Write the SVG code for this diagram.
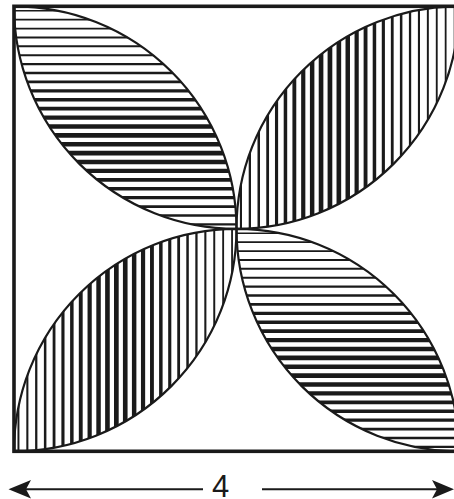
<svg xmlns="http://www.w3.org/2000/svg" width="454" height="499" viewBox="0 0 454 499">
<style>
.h line{stroke:#1a1a1a;fill:none}
.outline{fill:none;stroke:#1a1a1a;stroke-width:2.2}
.sq{fill:none;stroke:#1a1a1a;stroke-width:3.6}
.dim{stroke:#1a1a1a;stroke-width:2;fill:none}
.head{fill:#1a1a1a;stroke:none}
.lbl{font-family:"Liberation Sans",Arial,sans-serif;font-size:31px;fill:#1a1a1a}
</style>
<defs>
<clipPath id="cTL"><path d="M14,6.3 A222.5,222.5 0 0 1 236.5,228.8 A222.5,222.5 0 0 1 14,6.3 Z"/></clipPath>
<clipPath id="cTR"><path d="M236.5,228.8 A222.5,222.5 0 0 1 459,6.3 A222.5,222.5 0 0 1 236.5,228.8 Z"/></clipPath>
<clipPath id="cBL"><path d="M14,451.3 A222.5,222.5 0 0 1 236.5,228.8 A222.5,222.5 0 0 1 14,451.3 Z"/></clipPath>
<clipPath id="cBR"><path d="M236.5,228.8 A222.5,222.5 0 0 1 459,451.3 A222.5,222.5 0 0 1 236.5,228.8 Z"/></clipPath>
</defs>
<rect width="454" height="499" fill="#ffffff"/>
<g id="petal-top-left">
<g class="h" clip-path="url(#cTL)">
<line x1="10" x2="240" y1="10.75" y2="10.75" stroke-width="1.73"/>
<line x1="10" x2="240" y1="19.65" y2="19.65" stroke-width="1.75"/>
<line x1="10" x2="240" y1="28.55" y2="28.55" stroke-width="1.80"/>
<line x1="10" x2="240" y1="37.45" y2="37.45" stroke-width="1.86"/>
<line x1="10" x2="240" y1="46.35" y2="46.35" stroke-width="1.96"/>
<line x1="10" x2="240" y1="55.25" y2="55.25" stroke-width="2.09"/>
<line x1="10" x2="240" y1="64.15" y2="64.15" stroke-width="2.28"/>
<line x1="10" x2="240" y1="73.05" y2="73.05" stroke-width="2.51"/>
<line x1="10" x2="240" y1="81.95" y2="81.95" stroke-width="2.80"/>
<line x1="10" x2="240" y1="90.85" y2="90.85" stroke-width="3.14"/>
<line x1="10" x2="240" y1="99.75" y2="99.75" stroke-width="3.50"/>
<line x1="10" x2="240" y1="108.65" y2="108.65" stroke-width="3.86"/>
<line x1="10" x2="240" y1="117.55" y2="117.55" stroke-width="4.20"/>
<line x1="10" x2="240" y1="126.45" y2="126.45" stroke-width="4.47"/>
<line x1="10" x2="240" y1="135.35" y2="135.35" stroke-width="4.64"/>
<line x1="10" x2="240" y1="144.25" y2="144.25" stroke-width="4.70"/>
<line x1="10" x2="240" y1="153.15" y2="153.15" stroke-width="4.64"/>
<line x1="10" x2="240" y1="162.05" y2="162.05" stroke-width="4.47"/>
<line x1="10" x2="240" y1="170.95" y2="170.95" stroke-width="4.20"/>
<line x1="10" x2="240" y1="179.85" y2="179.85" stroke-width="3.86"/>
<line x1="10" x2="240" y1="188.75" y2="188.75" stroke-width="3.50"/>
<line x1="10" x2="240" y1="197.65" y2="197.65" stroke-width="3.14"/>
<line x1="10" x2="240" y1="206.55" y2="206.55" stroke-width="2.80"/>
<line x1="10" x2="240" y1="215.45" y2="215.45" stroke-width="2.51"/>
<line x1="10" x2="240" y1="224.35" y2="224.35" stroke-width="2.28"/>
</g>
<path class="outline" d="M14,6.3 A222.5,222.5 0 0 1 236.5,228.8 A222.5,222.5 0 0 1 14,6.3 Z"/>
</g>
<g id="petal-bottom-right">
<g class="h" clip-path="url(#cBR)">
<line x1="233" x2="462" y1="233.25" y2="233.25" stroke-width="1.73"/>
<line x1="233" x2="462" y1="242.15" y2="242.15" stroke-width="1.75"/>
<line x1="233" x2="462" y1="251.05" y2="251.05" stroke-width="1.80"/>
<line x1="233" x2="462" y1="259.95" y2="259.95" stroke-width="1.86"/>
<line x1="233" x2="462" y1="268.85" y2="268.85" stroke-width="1.96"/>
<line x1="233" x2="462" y1="277.75" y2="277.75" stroke-width="2.09"/>
<line x1="233" x2="462" y1="286.65" y2="286.65" stroke-width="2.28"/>
<line x1="233" x2="462" y1="295.55" y2="295.55" stroke-width="2.51"/>
<line x1="233" x2="462" y1="304.45" y2="304.45" stroke-width="2.80"/>
<line x1="233" x2="462" y1="313.35" y2="313.35" stroke-width="3.14"/>
<line x1="233" x2="462" y1="322.25" y2="322.25" stroke-width="3.50"/>
<line x1="233" x2="462" y1="331.15" y2="331.15" stroke-width="3.86"/>
<line x1="233" x2="462" y1="340.05" y2="340.05" stroke-width="4.20"/>
<line x1="233" x2="462" y1="348.95" y2="348.95" stroke-width="4.47"/>
<line x1="233" x2="462" y1="357.85" y2="357.85" stroke-width="4.64"/>
<line x1="233" x2="462" y1="366.75" y2="366.75" stroke-width="4.70"/>
<line x1="233" x2="462" y1="375.65" y2="375.65" stroke-width="4.64"/>
<line x1="233" x2="462" y1="384.55" y2="384.55" stroke-width="4.47"/>
<line x1="233" x2="462" y1="393.45" y2="393.45" stroke-width="4.20"/>
<line x1="233" x2="462" y1="402.35" y2="402.35" stroke-width="3.86"/>
<line x1="233" x2="462" y1="411.25" y2="411.25" stroke-width="3.50"/>
<line x1="233" x2="462" y1="420.15" y2="420.15" stroke-width="3.14"/>
<line x1="233" x2="462" y1="429.05" y2="429.05" stroke-width="2.80"/>
<line x1="233" x2="462" y1="437.95" y2="437.95" stroke-width="2.51"/>
<line x1="233" x2="462" y1="446.85" y2="446.85" stroke-width="2.28"/>
</g>
<path class="outline" d="M236.5,228.8 A222.5,222.5 0 0 1 459,451.3 A222.5,222.5 0 0 1 236.5,228.8 Z"/>
</g>
<g id="petal-top-right">
<g class="h" clip-path="url(#cTR)">
<line y1="3" y2="232" x1="240.95" x2="240.95" stroke-width="2.09"/>
<line y1="3" y2="232" x1="249.85" x2="249.85" stroke-width="2.28"/>
<line y1="3" y2="232" x1="258.75" x2="258.75" stroke-width="2.51"/>
<line y1="3" y2="232" x1="267.65" x2="267.65" stroke-width="2.80"/>
<line y1="3" y2="232" x1="276.55" x2="276.55" stroke-width="3.14"/>
<line y1="3" y2="232" x1="285.45" x2="285.45" stroke-width="3.50"/>
<line y1="3" y2="232" x1="294.35" x2="294.35" stroke-width="3.86"/>
<line y1="3" y2="232" x1="303.25" x2="303.25" stroke-width="4.20"/>
<line y1="3" y2="232" x1="312.15" x2="312.15" stroke-width="4.47"/>
<line y1="3" y2="232" x1="321.05" x2="321.05" stroke-width="4.64"/>
<line y1="3" y2="232" x1="329.95" x2="329.95" stroke-width="4.70"/>
<line y1="3" y2="232" x1="338.85" x2="338.85" stroke-width="4.64"/>
<line y1="3" y2="232" x1="347.75" x2="347.75" stroke-width="4.47"/>
<line y1="3" y2="232" x1="356.65" x2="356.65" stroke-width="4.20"/>
<line y1="3" y2="232" x1="365.55" x2="365.55" stroke-width="3.86"/>
<line y1="3" y2="232" x1="374.45" x2="374.45" stroke-width="3.50"/>
<line y1="3" y2="232" x1="383.35" x2="383.35" stroke-width="3.14"/>
<line y1="3" y2="232" x1="392.25" x2="392.25" stroke-width="2.80"/>
<line y1="3" y2="232" x1="401.15" x2="401.15" stroke-width="2.51"/>
<line y1="3" y2="232" x1="410.05" x2="410.05" stroke-width="2.28"/>
<line y1="3" y2="232" x1="418.95" x2="418.95" stroke-width="2.09"/>
<line y1="3" y2="232" x1="427.85" x2="427.85" stroke-width="1.96"/>
<line y1="3" y2="232" x1="436.75" x2="436.75" stroke-width="1.86"/>
<line y1="3" y2="232" x1="445.65" x2="445.65" stroke-width="1.80"/>
<line y1="3" y2="232" x1="454.55" x2="454.55" stroke-width="1.75"/>
</g>
<path class="outline" d="M236.5,228.8 A222.5,222.5 0 0 1 459,6.3 A222.5,222.5 0 0 1 236.5,228.8 Z"/>
</g>
<g id="petal-bottom-left">
<g class="h" clip-path="url(#cBL)">
<line y1="225" y2="455" x1="18.45" x2="18.45" stroke-width="1.96"/>
<line y1="225" y2="455" x1="27.35" x2="27.35" stroke-width="2.09"/>
<line y1="225" y2="455" x1="36.25" x2="36.25" stroke-width="2.28"/>
<line y1="225" y2="455" x1="45.15" x2="45.15" stroke-width="2.51"/>
<line y1="225" y2="455" x1="54.05" x2="54.05" stroke-width="2.80"/>
<line y1="225" y2="455" x1="62.95" x2="62.95" stroke-width="3.14"/>
<line y1="225" y2="455" x1="71.85" x2="71.85" stroke-width="3.50"/>
<line y1="225" y2="455" x1="80.75" x2="80.75" stroke-width="3.86"/>
<line y1="225" y2="455" x1="89.65" x2="89.65" stroke-width="4.20"/>
<line y1="225" y2="455" x1="98.55" x2="98.55" stroke-width="4.47"/>
<line y1="225" y2="455" x1="107.45" x2="107.45" stroke-width="4.64"/>
<line y1="225" y2="455" x1="116.35" x2="116.35" stroke-width="4.70"/>
<line y1="225" y2="455" x1="125.25" x2="125.25" stroke-width="4.64"/>
<line y1="225" y2="455" x1="134.15" x2="134.15" stroke-width="4.47"/>
<line y1="225" y2="455" x1="143.05" x2="143.05" stroke-width="4.20"/>
<line y1="225" y2="455" x1="151.95" x2="151.95" stroke-width="3.86"/>
<line y1="225" y2="455" x1="160.85" x2="160.85" stroke-width="3.50"/>
<line y1="225" y2="455" x1="169.75" x2="169.75" stroke-width="3.14"/>
<line y1="225" y2="455" x1="178.65" x2="178.65" stroke-width="2.80"/>
<line y1="225" y2="455" x1="187.55" x2="187.55" stroke-width="2.51"/>
<line y1="225" y2="455" x1="196.45" x2="196.45" stroke-width="2.28"/>
<line y1="225" y2="455" x1="205.35" x2="205.35" stroke-width="2.09"/>
<line y1="225" y2="455" x1="214.25" x2="214.25" stroke-width="1.96"/>
<line y1="225" y2="455" x1="223.15" x2="223.15" stroke-width="1.86"/>
<line y1="225" y2="455" x1="232.05" x2="232.05" stroke-width="1.80"/>
</g>
<path class="outline" d="M14,451.3 A222.5,222.5 0 0 1 236.5,228.8 A222.5,222.5 0 0 1 14,451.3 Z"/>
</g>
<g id="square">
<rect class="sq" x="14" y="6.3" width="445" height="445"/>
</g>
<g id="dimension">
<line class="dim" x1="26" y1="489.3" x2="203" y2="489.3"/>
<line class="dim" x1="262" y1="489.3" x2="438" y2="489.3"/>
<path class="head" d="M8.5,489.3 L31,480 L26,489.3 L31,498.6 Z"/>
<path class="head" d="M454,489.3 L432,480 L437,489.3 L432,498.6 Z"/>
<text class="lbl" x="220.5" y="496.5" text-anchor="middle">4</text>
</g>
</svg>
